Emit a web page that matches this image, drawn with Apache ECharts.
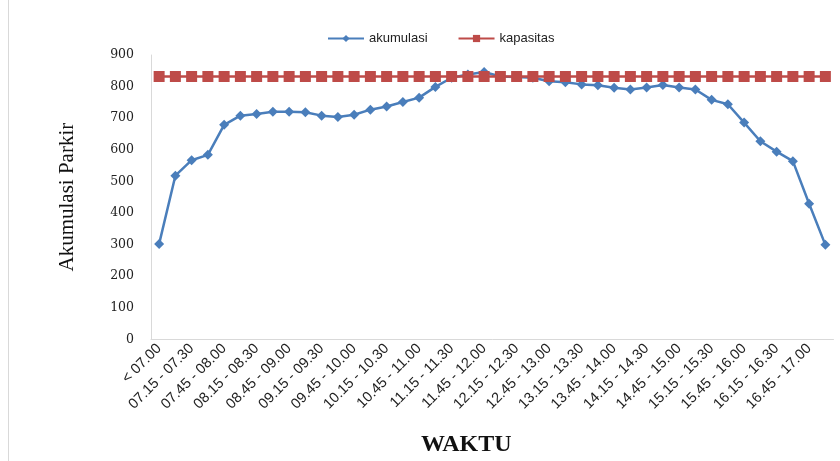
<!DOCTYPE html>
<html>
<head>
<meta charset="utf-8">
<script src="https://cdn.jsdelivr.net/npm/echarts@6/dist/echarts.min.js"></script>
<style>html,body{margin:0;padding:0;background:#fff}#c{width:840px;height:461px}</style>
</head>
<body>
<div id="c"></div>
<script>
const categories = ["< 07.00","07.00 - 07.15","07.15 - 07.30","07.30 - 07.45","07.45 - 08.00","08.00 - 08.15","08.15 - 08.30","08.30 - 08.45","08.45 - 09.00","09.00 - 09.15","09.15 - 09.30","09.30 - 09.45","09.45 - 10.00","10.00 - 10.15","10.15 - 10.30","10.30 - 10.45","10.45 - 11.00","11.00 - 11.15","11.15 - 11.30","11.30 - 11.45","11.45 - 12.00","12.00 - 12.15","12.15 - 12.30","12.30 - 12.45","12.45 - 13.00","13.00 - 13.15","13.15 - 13.30","13.30 - 13.45","13.45 - 14.00","14.00 - 14.15","14.15 - 14.30","14.30 - 14.45","14.45 - 15.00","15.00 - 15.15","15.15 - 15.30","15.30 - 15.45","15.45 - 16.00","16.00 - 16.15","16.15 - 16.30","16.30 - 16.45","16.45 - 17.00","17.00 - 17.15"];
const akumulasi = [302,518,567,584,679,708,713,720,720,719,708,704,711,727,737,751,765,799,828,838,846,832,830,828,817,814,807,804,796,791,797,805,797,791,758,744,686,627,594,564,429,299];
const kapasitas = [832,832,832,832,832,832,832,832,832,832,832,832,832,832,832,832,832,832,832,832,832,832,832,832,832,832,832,832,832,832,832,832,832,832,832,832,832,832,832,832,832,832];
const yTicks = {min:0, max:900, interval:100};

const chart = echarts.init(document.getElementById('c'), null, {renderer:'canvas'});
chart.setOption({
  animation:false,
  backgroundColor:'#fff',
  graphic:[{type:'line', shape:{x1:8.5,y1:0,x2:8.5,y2:461}, style:{stroke:'#d9d9d9', lineWidth:1}}],
  legend:{
    top:27, left:322, itemGap:30, itemWidth:36, itemHeight:9,
    textStyle:{fontFamily:'Liberation Sans, Arial', fontSize:13, color:'#222'},
    data:['akumulasi','kapasitas']
  },
  grid:{left:151, right:6.5, top:55, bottom:121.7, containLabel:false, outerBoundsMode:'none'},
  xAxis:{
    type:'category', data:categories, boundaryGap:true,
    name:'WAKTU', nameLocation:'middle', nameGap:93,
    nameTextStyle:{fontFamily:'Liberation Serif, Times New Roman', fontWeight:'bold', fontSize:24, color:'#111', padding:[0,52,0,0]},
    axisLine:{lineStyle:{color:'#d9d9d9', width:1}},
    axisTick:{show:false},
    axisLabel:{interval:1, rotate:45, fontFamily:'Liberation Sans, Arial', fontSize:14.5, color:'#222', margin:7}
  },
  yAxis:{
    type:'value', min:yTicks.min, max:yTicks.max, interval:yTicks.interval,
    name:'Akumulasi Parkir', nameLocation:'middle', nameGap:73, nameRotate:90,
    nameTextStyle:{fontFamily:'Liberation Serif, Times New Roman', fontSize:21, color:'#111'},
    axisLine:{show:true, lineStyle:{color:'#d9d9d9', width:1}},
    axisTick:{show:false},
    splitLine:{show:false},
    axisLabel:{fontFamily:'DejaVu Serif, Liberation Serif', fontSize:12.5, color:'#222', margin:17}
  },
  series:[
    {name:'akumulasi', type:'line', data:akumulasi, symbol:'diamond', symbolSize:10, showAllSymbol:true,
     lineStyle:{color:'#4a7ebb', width:2.5}, itemStyle:{color:'#4a7ebb'}, z:2},
    {name:'kapasitas', type:'line', data:kapasitas, symbol:'rect', symbolSize:11, showAllSymbol:true,
     lineStyle:{color:'#be4b48', width:2.5}, itemStyle:{color:'#be4b48'}, z:3}
  ]
});
</script>
</body>
</html>
